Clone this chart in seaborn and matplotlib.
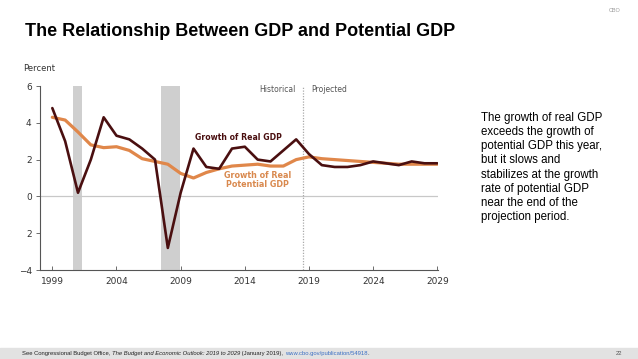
import pandas as pd
import matplotlib.pyplot as plt
import seaborn as sns

# values (percent growth)
years = list(range(1999, 2030))
real_gdp = [4.8, 3.0, 0.2, 2.0, 4.3, 3.3, 3.1, 2.6, 2.0, -2.8, 0.2, 2.6, 1.6, 1.5, 2.6, 2.7,
            2.0, 1.9, 2.5, 3.1, 2.3, 1.7, 1.6, 1.6, 1.7, 1.9, 1.8, 1.7, 1.9, 1.8, 1.8]
potential_gdp = [4.3, 4.15, 3.5, 2.8, 2.65, 2.7, 2.5, 2.05, 1.9, 1.75, 1.25, 1.0, 1.3, 1.5, 1.65, 1.7,
                 1.75, 1.65, 1.65, 2.0, 2.15, 2.05, 2.0, 1.95, 1.9, 1.85, 1.8, 1.75, 1.75, 1.75, 1.75]
recessions = [(2000.65, 2001.35), (2007.45, 2008.98)]
y_ticks = [-4, -2, 0, 2, 4, 6]
y_tick_labels = ['\u22124', '2', '0', '2', '4', '6']
x_ticks = [1999, 2004, 2009, 2014, 2019, 2024, 2029]
split_year = 2018.56
footer_parts = [
    ('See Congressional Budget Office, ', 'normal', '#222222'),
    ('The Budget and Economic Outlook: 2019 to 2029', 'italic', '#222222'),
    (' (January 2019), ', 'normal', '#222222'),
    ('www.cbo.gov/publication/54918', 'normal', '#3a6fc4'),
    ('.', 'normal', '#222222'),
]

REAL_COLOR = '#4a0f10'
POT_COLOR = '#e0874a'
POT_TEXT = '#d9894e'

df = pd.DataFrame({
    'year': years * 2,
    'value': real_gdp + potential_gdp,
    'series': ['Real GDP'] * len(years) + ['Potential GDP'] * len(years),
})

sns.set_theme(style='white')
plt.rcParams['font.family'] = ['Liberation Sans', 'DejaVu Sans']

fig = plt.figure(figsize=(6.38, 3.59), dpi=100)
ax = fig.add_axes([0.0627, 0.2479, 0.6238, 0.5125])

for start, end in recessions:
    ax.axvspan(start, end, color='#cfcfcf', lw=0, zorder=0)
ax.axhline(0, color='#c8c8c8', lw=0.9, zorder=1)
ax.axvline(split_year, color='#aaaaaa', lw=0.9, ls=(0, (1, 1.2)), zorder=1)

sns.lineplot(data=df, x='year', y='value', hue='series', hue_order=['Potential GDP', 'Real GDP'],
             palette={'Real GDP': REAL_COLOR, 'Potential GDP': POT_COLOR}, legend=False, ax=ax)
for line in ax.get_lines()[-2:]:
    if line.get_color() == POT_COLOR:
        line.set_linewidth(2.3)
        line.set_zorder(2)
    else:
        line.set_linewidth(1.9)
        line.set_zorder(3)

ax.set_xlim(1998.04, 2029.05)
ax.set_ylim(-4, 6)
ax.set_xticks(x_ticks)
ax.set_xticklabels([str(x) for x in x_ticks], fontsize=6.5, color='#333333', family='DejaVu Sans')
ax.set_yticks(y_ticks)
ax.set_yticklabels(y_tick_labels, fontsize=6.5, color='#333333', family='DejaVu Sans')
ax.set_xlabel('')
ax.set_ylabel('')
for side in ['top', 'right']:
    ax.spines[side].set_visible(False)
for side in ['left', 'bottom']:
    ax.spines[side].set_color('#555555')
    ax.spines[side].set_linewidth(0.8)
ax.tick_params(axis='y', direction='out', length=3, width=0.6, color='#555555', pad=3, left=True)
ax.tick_params(axis='x', direction='in', length=3, width=0.6, color='#555555', pad=5, bottom=True)

ax.text(split_year - 0.6, 5.8, 'Historical', ha='right', va='center', fontsize=5.5,
        color='#555555', family='DejaVu Sans')
ax.text(split_year + 0.6, 5.8, 'Projected', ha='left', va='center', fontsize=5.5,
        color='#555555', family='DejaVu Sans')
ax.text(2013.5, 3.2, 'Growth of Real GDP', ha='center', va='center', fontsize=5.6,
        color=REAL_COLOR, family='DejaVu Sans', fontweight='bold')
ax.text(2015.0, 0.9, 'Growth of Real\nPotential GDP', ha='center', va='center', fontsize=5.8,
        color=POT_TEXT, family='DejaVu Sans', fontweight='bold', linespacing=1.1)

fig.text(0.036, 0.81, 'Percent', fontsize=6, color='#333333', family='DejaVu Sans', va='center')
fig.text(0.039, 0.912, 'The Relationship Between GDP and Potential GDP', fontsize=13.0,
         fontweight='bold', color='black', va='center')
fig.text(0.972, 0.972, 'CBO', fontsize=4, color='#999999', ha='right', va='center')

fig.text(0.754, 0.688, 'The growth of real GDP\nexceeds the growth of\npotential GDP this year,\n'
         'but it slows and\nstabilizes at the growth\nrate of potential GDP\nnear the end of the\n'
         'projection period.', fontsize=8.3, color='black', va='top', ha='left', linespacing=1.24)

# footer band, pieces laid end to end
fig.patches.append(plt.Rectangle((0, 0), 1, 0.03, transform=fig.transFigure, color='#e2e2e2', zorder=0))
renderer = fig.canvas.get_renderer()
x_px = 22
for txt, style, col in footer_parts:
    t = fig.text(x_px / 638, 0.016, txt, fontsize=4.25, style=style, va='center', color=col)
    x_px = t.get_window_extent(renderer).x1
fig.text(0.975, 0.016, '22', fontsize=4.2, va='center', ha='right', color='#555555')

fig.savefig('out.png', dpi=100)
